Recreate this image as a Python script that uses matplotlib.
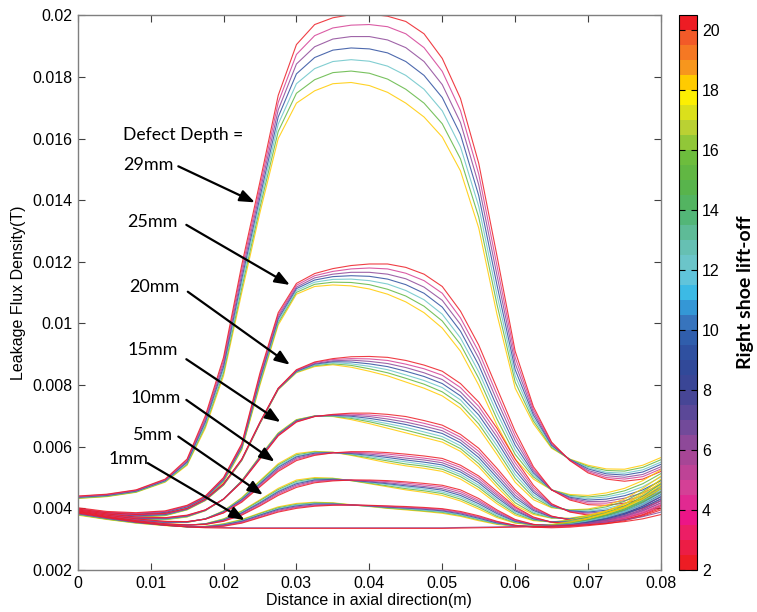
import numpy as np
import matplotlib
matplotlib.use("Agg")
import matplotlib.pyplot as plt
from matplotlib.colors import LinearSegmentedColormap, ListedColormap, Normalize
from matplotlib.cm import ScalarMappable

# axial positions (m)
x_pos = [0, .004, .008, .012, .015, .0175, .02, .0225, .025, .0275, .03, .0325, .035, .0375,
         .04, .0425, .045, .0475, .05, .0525, .055, .0575, .06, .0625, .065, .0675, .07,
         .0725, .075, .0775, .08]

# right shoe lift-off of each row below
lift_offs = [2, 4.5, 6, 9, 12, 15, 18]

# leakage flux density in mT, one row per lift-off
flux_29mm = [
    [4.40, 4.46, 4.60, 4.95, 5.6, 7.0, 8.9, 11.9, 14.6, 17.4, 19.05, 19.7, 19.92, 20.02, 20.04, 19.97, 19.8, 19.4, 18.6, 17.3, 15.2, 12.2, 9.1, 7.3, 6.15, 5.55, 5.15, 4.95, 4.88, 4.95, 5.2],
    [4.39, 4.45, 4.59, 4.93, 5.57, 6.93, 8.8, 11.75, 14.43, 17.17, 18.73, 19.34, 19.59, 19.68, 19.7, 19.63, 19.4, 18.95, 18.18, 16.91, 14.85, 11.88, 8.9, 7.21, 6.12, 5.56, 5.19, 5.0, 4.95, 5.03, 5.28],
    [4.37, 4.43, 4.57, 4.92, 5.53, 6.87, 8.7, 11.6, 14.27, 16.93, 18.42, 18.98, 19.23, 19.31, 19.31, 19.2, 18.95, 18.5, 17.75, 16.52, 14.5, 11.57, 8.7, 7.12, 6.08, 5.57, 5.23, 5.06, 5.01, 5.1, 5.35],
    [4.36, 4.42, 4.56, 4.9, 5.5, 6.8, 8.6, 11.45, 14.1, 16.7, 18.1, 18.63, 18.87, 18.94, 18.91, 18.78, 18.5, 18.05, 17.33, 16.13, 14.15, 11.25, 8.5, 7.03, 6.05, 5.58, 5.28, 5.12, 5.08, 5.18, 5.43],
    [4.35, 4.41, 4.55, 4.88, 5.47, 6.73, 8.5, 11.3, 13.93, 16.47, 17.78, 18.27, 18.5, 18.56, 18.51, 18.35, 18.05, 17.6, 16.9, 15.73, 13.8, 10.93, 8.3, 6.93, 6.02, 5.58, 5.32, 5.17, 5.14, 5.25, 5.5],
    [4.33, 4.39, 4.53, 4.87, 5.43, 6.67, 8.4, 11.15, 13.77, 16.23, 17.47, 17.91, 18.14, 18.19, 18.12, 17.93, 17.6, 17.15, 16.48, 15.34, 13.45, 10.62, 8.1, 6.84, 5.98, 5.59, 5.36, 5.23, 5.21, 5.33, 5.58],
    [4.32, 4.38, 4.52, 4.85, 5.4, 6.6, 8.3, 11.0, 13.6, 16.0, 17.15, 17.55, 17.78, 17.82, 17.72, 17.5, 17.15, 16.7, 16.05, 14.95, 13.1, 10.3, 7.9, 6.75, 5.95, 5.6, 5.4, 5.28, 5.27, 5.4, 5.65],
]
flux_25mm = [
    [4.02, 3.9, 3.86, 3.92, 4.1, 4.4, 5.0, 6.1, 8.4, 10.35, 11.3, 11.62, 11.78, 11.88, 11.93, 11.93, 11.82, 11.6, 11.2, 10.4, 9.3, 7.9, 6.5, 5.35, 4.6, 4.27, 4.12, 4.1, 4.17, 4.3, 4.55],
    [4.0, 3.88, 3.84, 3.9, 4.08, 4.38, 4.98, 6.07, 8.33, 10.28, 11.24, 11.55, 11.69, 11.77, 11.8, 11.77, 11.63, 11.39, 10.98, 10.18, 9.08, 7.7, 6.35, 5.28, 4.6, 4.3, 4.17, 4.17, 4.25, 4.4, 4.67],
    [3.97, 3.87, 3.83, 3.89, 4.07, 4.37, 4.95, 6.03, 8.27, 10.22, 11.18, 11.48, 11.6, 11.66, 11.66, 11.6, 11.45, 11.18, 10.75, 9.97, 8.87, 7.5, 6.2, 5.22, 4.6, 4.33, 4.22, 4.23, 4.33, 4.5, 4.78],
    [3.95, 3.85, 3.81, 3.87, 4.05, 4.35, 4.93, 6.0, 8.2, 10.15, 11.13, 11.41, 11.52, 11.55, 11.53, 11.44, 11.26, 10.98, 10.53, 9.75, 8.65, 7.3, 6.05, 5.15, 4.6, 4.36, 4.27, 4.3, 4.41, 4.6, 4.9],
    [3.93, 3.83, 3.79, 3.85, 4.03, 4.33, 4.9, 5.97, 8.13, 10.08, 11.07, 11.34, 11.43, 11.44, 11.39, 11.28, 11.07, 10.77, 10.3, 9.53, 8.43, 7.1, 5.9, 5.08, 4.6, 4.39, 4.32, 4.37, 4.49, 4.7, 5.02],
    [3.9, 3.82, 3.78, 3.84, 4.02, 4.32, 4.88, 5.93, 8.07, 10.02, 11.01, 11.27, 11.34, 11.33, 11.26, 11.11, 10.89, 10.56, 10.08, 9.32, 8.22, 6.9, 5.75, 5.02, 4.6, 4.42, 4.37, 4.43, 4.57, 4.8, 5.13],
    [3.88, 3.8, 3.76, 3.82, 4.0, 4.3, 4.85, 5.9, 8.0, 9.95, 10.95, 11.2, 11.25, 11.22, 11.12, 10.95, 10.7, 10.35, 9.85, 9.1, 8.0, 6.7, 5.6, 4.95, 4.6, 4.45, 4.42, 4.5, 4.65, 4.9, 5.25],
]
flux_20mm = [
    [3.98, 3.86, 3.8, 3.84, 4.0, 4.3, 4.8, 5.6, 6.8, 7.9, 8.5, 8.75, 8.86, 8.92, 8.93, 8.9, 8.8, 8.65, 8.45, 8.05, 7.45, 6.6, 5.6, 4.75, 4.15, 3.88, 3.78, 3.78, 3.85, 4.0, 4.25],
    [3.96, 3.84, 3.79, 3.83, 3.99, 4.29, 4.79, 5.59, 6.79, 7.89, 8.48, 8.73, 8.83, 8.86, 8.85, 8.8, 8.68, 8.53, 8.32, 7.92, 7.31, 6.46, 5.48, 4.67, 4.13, 3.89, 3.81, 3.83, 3.93, 4.11, 4.38],
    [3.94, 3.83, 3.77, 3.81, 3.98, 4.28, 4.78, 5.58, 6.78, 7.88, 8.47, 8.7, 8.79, 8.81, 8.77, 8.7, 8.57, 8.4, 8.18, 7.78, 7.17, 6.32, 5.35, 4.59, 4.11, 3.9, 3.85, 3.89, 4.0, 4.22, 4.52],
    [3.92, 3.81, 3.76, 3.8, 3.98, 4.28, 4.78, 5.58, 6.78, 7.88, 8.45, 8.68, 8.76, 8.75, 8.69, 8.6, 8.45, 8.28, 8.05, 7.65, 7.03, 6.18, 5.23, 4.52, 4.09, 3.92, 3.88, 3.94, 4.08, 4.33, 4.65],
    [3.9, 3.79, 3.74, 3.79, 3.97, 4.27, 4.77, 5.57, 6.77, 7.87, 8.43, 8.65, 8.73, 8.69, 8.61, 8.5, 8.33, 8.15, 7.92, 7.52, 6.88, 6.03, 5.1, 4.44, 4.06, 3.93, 3.91, 3.99, 4.15, 4.43, 4.78],
    [3.88, 3.78, 3.73, 3.77, 3.96, 4.26, 4.76, 5.56, 6.76, 7.86, 8.42, 8.63, 8.69, 8.64, 8.53, 8.4, 8.22, 8.03, 7.78, 7.38, 6.74, 5.89, 4.98, 4.36, 4.04, 3.94, 3.95, 4.05, 4.23, 4.54, 4.92],
    [3.86, 3.76, 3.71, 3.76, 3.95, 4.25, 4.75, 5.55, 6.75, 7.85, 8.4, 8.6, 8.66, 8.58, 8.45, 8.3, 8.1, 7.9, 7.65, 7.25, 6.6, 5.75, 4.85, 4.28, 4.02, 3.95, 3.98, 4.1, 4.3, 4.65, 5.05],
]
flux_15mm = [
    [3.95, 3.82, 3.72, 3.7, 3.78, 3.95, 4.3, 4.85, 5.6, 6.35, 6.8, 6.98, 7.05, 7.09, 7.09, 7.05, 6.98, 6.85, 6.7, 6.4, 5.95, 5.3, 4.6, 4.05, 3.75, 3.62, 3.58, 3.6, 3.68, 3.85, 4.1],
    [3.93, 3.8, 3.71, 3.69, 3.77, 3.95, 4.3, 4.86, 5.62, 6.37, 6.81, 6.98, 7.04, 7.06, 7.03, 6.98, 6.89, 6.76, 6.61, 6.31, 5.85, 5.2, 4.52, 4.01, 3.74, 3.63, 3.61, 3.65, 3.76, 3.96, 4.24],
    [3.91, 3.79, 3.69, 3.68, 3.76, 3.94, 4.3, 4.87, 5.63, 6.38, 6.83, 6.99, 7.03, 7.02, 6.98, 6.9, 6.8, 6.67, 6.52, 6.22, 5.75, 5.1, 4.43, 3.97, 3.73, 3.64, 3.65, 3.71, 3.84, 4.07, 4.38],
    [3.9, 3.77, 3.68, 3.67, 3.75, 3.94, 4.3, 4.88, 5.65, 6.4, 6.84, 6.99, 7.02, 6.99, 6.92, 6.83, 6.72, 6.58, 6.43, 6.13, 5.65, 5.0, 4.35, 3.93, 3.72, 3.65, 3.68, 3.76, 3.92, 4.18, 4.53],
    [3.88, 3.75, 3.67, 3.65, 3.74, 3.93, 4.3, 4.88, 5.67, 6.42, 6.85, 6.99, 7.0, 6.95, 6.86, 6.75, 6.63, 6.48, 6.33, 6.03, 5.55, 4.9, 4.27, 3.88, 3.7, 3.66, 3.71, 3.81, 3.99, 4.28, 4.67],
    [3.86, 3.74, 3.65, 3.64, 3.73, 3.93, 4.3, 4.89, 5.68, 6.43, 6.87, 7.0, 6.99, 6.92, 6.81, 6.68, 6.54, 6.39, 6.24, 5.94, 5.45, 4.8, 4.18, 3.84, 3.69, 3.67, 3.75, 3.87, 4.07, 4.39, 4.81],
    [3.84, 3.72, 3.64, 3.63, 3.72, 3.92, 4.3, 4.9, 5.7, 6.45, 6.88, 7.0, 6.98, 6.88, 6.75, 6.6, 6.45, 6.3, 6.15, 5.85, 5.35, 4.7, 4.1, 3.8, 3.68, 3.68, 3.78, 3.92, 4.15, 4.5, 4.95],
]
flux_10mm = [
    [3.92, 3.78, 3.66, 3.58, 3.57, 3.65, 3.85, 4.2, 4.7, 5.2, 5.55, 5.72, 5.8, 5.84, 5.84, 5.81, 5.76, 5.7, 5.62, 5.4, 5.05, 4.55, 4.05, 3.72, 3.55, 3.5, 3.52, 3.56, 3.64, 3.8, 4.05],
    [3.9, 3.76, 3.65, 3.57, 3.57, 3.65, 3.86, 4.23, 4.73, 5.24, 5.59, 5.74, 5.8, 5.82, 5.8, 5.76, 5.7, 5.63, 5.55, 5.33, 4.98, 4.48, 4.01, 3.7, 3.55, 3.52, 3.56, 3.62, 3.72, 3.91, 4.18],
    [3.89, 3.75, 3.63, 3.56, 3.56, 3.65, 3.87, 4.25, 4.77, 5.28, 5.63, 5.76, 5.81, 5.8, 5.76, 5.7, 5.63, 5.57, 5.48, 5.25, 4.9, 4.42, 3.96, 3.68, 3.55, 3.54, 3.6, 3.67, 3.8, 4.02, 4.32],
    [3.87, 3.73, 3.62, 3.55, 3.56, 3.66, 3.89, 4.28, 4.8, 5.33, 5.67, 5.79, 5.81, 5.78, 5.72, 5.65, 5.57, 5.5, 5.41, 5.18, 4.83, 4.35, 3.92, 3.66, 3.56, 3.56, 3.64, 3.73, 3.88, 4.13, 4.45],
    [3.85, 3.71, 3.6, 3.54, 3.55, 3.66, 3.9, 4.3, 4.83, 5.37, 5.7, 5.81, 5.81, 5.76, 5.68, 5.59, 5.51, 5.43, 5.34, 5.1, 4.75, 4.28, 3.87, 3.64, 3.56, 3.58, 3.67, 3.79, 3.96, 4.23, 4.58],
    [3.84, 3.7, 3.59, 3.53, 3.55, 3.66, 3.91, 4.33, 4.87, 5.41, 5.74, 5.83, 5.82, 5.74, 5.64, 5.54, 5.44, 5.37, 5.27, 5.03, 4.68, 4.22, 3.83, 3.62, 3.56, 3.6, 3.71, 3.84, 4.04, 4.34, 4.72],
    [3.82, 3.68, 3.57, 3.52, 3.54, 3.66, 3.92, 4.35, 4.9, 5.45, 5.78, 5.85, 5.82, 5.72, 5.6, 5.48, 5.38, 5.3, 5.2, 4.95, 4.6, 4.15, 3.78, 3.6, 3.56, 3.62, 3.75, 3.9, 4.12, 4.45, 4.85],
]
flux_5mm = [
    [3.9, 3.74, 3.6, 3.5, 3.46, 3.48, 3.58, 3.78, 4.08, 4.42, 4.68, 4.83, 4.89, 4.92, 4.92, 4.9, 4.86, 4.81, 4.75, 4.6, 4.32, 3.95, 3.64, 3.48, 3.42, 3.42, 3.47, 3.53, 3.63, 3.78, 4.0],
    [3.88, 3.73, 3.59, 3.49, 3.46, 3.48, 3.59, 3.8, 4.11, 4.46, 4.72, 4.86, 4.91, 4.92, 4.9, 4.87, 4.82, 4.76, 4.7, 4.54, 4.26, 3.91, 3.62, 3.48, 3.43, 3.44, 3.51, 3.58, 3.7, 3.88, 4.13],
    [3.87, 3.71, 3.58, 3.49, 3.46, 3.49, 3.61, 3.83, 4.15, 4.5, 4.76, 4.89, 4.92, 4.91, 4.88, 4.83, 4.77, 4.71, 4.64, 4.48, 4.21, 3.87, 3.6, 3.47, 3.44, 3.47, 3.54, 3.63, 3.77, 3.97, 4.25],
    [3.85, 3.7, 3.57, 3.48, 3.46, 3.49, 3.62, 3.85, 4.18, 4.54, 4.8, 4.92, 4.94, 4.91, 4.86, 4.8, 4.73, 4.67, 4.59, 4.42, 4.15, 3.83, 3.58, 3.47, 3.45, 3.49, 3.58, 3.69, 3.84, 4.07, 4.38],
    [3.83, 3.69, 3.56, 3.47, 3.45, 3.49, 3.63, 3.87, 4.21, 4.57, 4.84, 4.94, 4.95, 4.91, 4.84, 4.77, 4.69, 4.62, 4.53, 4.36, 4.09, 3.78, 3.56, 3.47, 3.46, 3.51, 3.61, 3.74, 3.91, 4.16, 4.5],
    [3.82, 3.67, 3.55, 3.47, 3.45, 3.5, 3.65, 3.9, 4.25, 4.61, 4.88, 4.97, 4.97, 4.9, 4.82, 4.73, 4.64, 4.57, 4.48, 4.3, 4.04, 3.74, 3.54, 3.46, 3.47, 3.54, 3.65, 3.79, 3.98, 4.26, 4.63],
    [3.8, 3.66, 3.54, 3.46, 3.45, 3.5, 3.66, 3.92, 4.28, 4.65, 4.92, 5.0, 4.98, 4.9, 4.8, 4.7, 4.6, 4.52, 4.42, 4.24, 3.98, 3.7, 3.52, 3.46, 3.48, 3.56, 3.68, 3.84, 4.05, 4.35, 4.75],
]
flux_1mm = [
    [3.88, 3.72, 3.58, 3.47, 3.41, 3.39, 3.42, 3.52, 3.7, 3.88, 4.0, 4.07, 4.1, 4.11, 4.1, 4.08, 4.06, 4.03, 3.99, 3.9, 3.76, 3.58, 3.45, 3.39, 3.37, 3.39, 3.44, 3.5, 3.6, 3.75, 3.95],
    [3.86, 3.71, 3.57, 3.47, 3.41, 3.39, 3.43, 3.54, 3.72, 3.91, 4.03, 4.09, 4.11, 4.11, 4.09, 4.07, 4.04, 4.01, 3.97, 3.87, 3.73, 3.56, 3.45, 3.4, 3.39, 3.42, 3.48, 3.55, 3.67, 3.84, 4.07],
    [3.85, 3.69, 3.56, 3.46, 3.41, 3.4, 3.45, 3.56, 3.75, 3.94, 4.05, 4.11, 4.13, 4.11, 4.09, 4.05, 4.02, 3.99, 3.94, 3.85, 3.71, 3.55, 3.44, 3.4, 3.4, 3.44, 3.51, 3.61, 3.74, 3.93, 4.18],
    [3.83, 3.68, 3.55, 3.46, 3.4, 3.4, 3.46, 3.58, 3.78, 3.97, 4.08, 4.14, 4.14, 4.11, 4.08, 4.04, 4.01, 3.97, 3.92, 3.82, 3.68, 3.53, 3.44, 3.41, 3.42, 3.47, 3.55, 3.66, 3.81, 4.03, 4.3],
    [3.81, 3.67, 3.54, 3.45, 3.4, 3.41, 3.47, 3.6, 3.8, 3.99, 4.11, 4.16, 4.15, 4.11, 4.07, 4.03, 3.99, 3.94, 3.89, 3.79, 3.65, 3.51, 3.43, 3.41, 3.43, 3.49, 3.59, 3.71, 3.88, 4.12, 4.42],
    [3.8, 3.65, 3.53, 3.45, 3.4, 3.41, 3.49, 3.62, 3.83, 4.02, 4.13, 4.18, 4.17, 4.11, 4.07, 4.01, 3.97, 3.92, 3.87, 3.77, 3.63, 3.5, 3.43, 3.42, 3.45, 3.52, 3.62, 3.77, 3.95, 4.21, 4.53],
    [3.78, 3.64, 3.52, 3.44, 3.4, 3.42, 3.5, 3.64, 3.85, 4.05, 4.16, 4.2, 4.18, 4.12, 4.06, 4.0, 3.95, 3.9, 3.84, 3.74, 3.6, 3.48, 3.42, 3.42, 3.46, 3.54, 3.66, 3.82, 4.02, 4.3, 4.65],
]
# flat traces with no defect response
intact_lift_offs = [2, 6]
flux_intact = [
    [3.85, 3.7, 3.56, 3.45, 3.4, 3.37, 3.36, 3.35, 3.35, 3.35, 3.35, 3.35, 3.35, 3.35, 3.35, 3.35, 3.35, 3.35, 3.35, 3.36, 3.37, 3.38, 3.39, 3.4, 3.42, 3.44, 3.47, 3.51, 3.57, 3.66, 3.8],
    [3.83, 3.68, 3.55, 3.45, 3.41, 3.39, 3.38, 3.37, 3.37, 3.37, 3.37, 3.37, 3.37, 3.37, 3.37, 3.37, 3.37, 3.37, 3.37, 3.38, 3.39, 3.4, 3.41, 3.42, 3.44, 3.47, 3.51, 3.56, 3.63, 3.73, 3.88],
]

depth_labels = ["29mm", "25mm", "20mm", "15mm", "10mm", "5mm", "1mm"]
groups = [flux_29mm, flux_25mm, flux_20mm, flux_15mm, flux_10mm, flux_5mm, flux_1mm]

# colour scale of the lift-off bar
anchor_vals = [2.0, 3.0, 3.6, 4.5, 5.5, 6.5, 7.5, 8.5, 9.5, 10.5, 11.0, 12.0, 13.0,
               14.0, 15.0, 16.0, 17.0, 18.0, 18.5, 19.0, 20.0, 20.5]
anchor_rgb = [(237, 28, 36), (236, 30, 100), (236, 20, 140), (214, 64, 150),
              (170, 70, 150), (120, 75, 155), (75, 70, 150), (50, 70, 150),
              (45, 85, 165), (60, 130, 200), (40, 180, 235), (110, 200, 215),
              (100, 190, 170), (80, 180, 110), (90, 180, 70), (110, 190, 60),
              (190, 210, 50), (255, 240, 0), (255, 200, 0), (247, 148, 30),
              (242, 90, 40), (237, 28, 36)]
lo, hi = 2.0, 20.5
smooth = LinearSegmentedColormap.from_list(
    "liftoff", [((v - lo) / (hi - lo), tuple(c / 255 for c in rgb))
                for v, rgb in zip(anchor_vals, anchor_rgb)])
cmap = ListedColormap(smooth(np.linspace(0, 1, 37)))
norm = Normalize(lo, hi)

plt.rcParams["font.family"] = ["Liberation Sans", "DejaVu Sans"]

W, H = 757, 612
fig = plt.figure(figsize=(W / 100, H / 100), dpi=100)
ax = fig.add_axes([77.7 / W, 1 - 570 / H, (661 - 77.7) / W, (570 - 15.3) / H])

x = np.array(x_pos)
traces = [(lift_offs, g) for g in groups] + [(intact_lift_offs, flux_intact)]
for lifts, grp in traces:
    # highest lift-off first so the low lift-off traces sit on top
    for lo_val, row in sorted(zip(lifts, grp), key=lambda t: -t[0]):
        ax.plot(x, np.array(row) * 1e-3, color=cmap(norm(lo_val)), lw=0.8, alpha=0.85)

ax.set_xlim(0, 0.08)
ax.set_ylim(0.002, 0.02)
ax.set_xticks(np.arange(0, 0.0801, 0.01))
ax.set_yticks(np.arange(0.002, 0.02001, 0.002))
ax.set_xticklabels(["0", "0.01", "0.02", "0.03", "0.04", "0.05", "0.06", "0.07", "0.08"])
ax.set_yticklabels(["0.002", "0.004", "0.006", "0.008", "0.01", "0.012", "0.014",
                    "0.016", "0.018", "0.02"])
ax.tick_params(direction="in", length=5, width=0.8, labelsize=11.5, top=True, right=True,
               color="#404040", pad=4)
for s in ax.spines.values():
    s.set_color("#7f7f7f")
    s.set_linewidth(1.0)
ax.set_xlabel("Distance in axial direction(m)", fontsize=11.5, labelpad=2)
ax.set_ylabel("Leakage Flux Density(T)", fontsize=11.5, labelpad=4)

# depth annotations
ann_font = dict(family=["Lato", "DejaVu Sans"], fontsize=13, va="center", ha="left")
ax.text(0.0062, 0.01612, "Defect Depth =", fontsize=12.6,
        **{k: v for k, v in ann_font.items() if k != "fontsize"})
text_pos = [(0.0062, 0.01515), (0.0068, 0.01328), (0.0070, 0.01117), (0.0069, 0.00914),
            (0.0073, 0.00758), (0.0076, 0.00638), (0.0042, 0.00560)]
arrow_from = [(0.0138, 0.01510), (0.0149, 0.01320), (0.0151, 0.01103), (0.0149, 0.00884),
              (0.0149, 0.00752), (0.0138, 0.00633), (0.0096, 0.00547)]
arrow_to = [(0.0243, 0.01393), (0.0291, 0.01125), (0.0291, 0.00866), (0.0278, 0.00680),
            (0.0270, 0.00552), (0.0254, 0.00444), (0.0229, 0.00362)]
for lab, tp, a0, a1 in zip(depth_labels, text_pos, arrow_from, arrow_to):
    ax.text(tp[0], tp[1], lab, **ann_font)
    ax.annotate("", xy=a1, xytext=a0,
                arrowprops=dict(arrowstyle="-|>,head_length=0.9,head_width=0.35",
                                color="black", lw=1.6, shrinkA=0, shrinkB=0))

# lift-off colour bar
cax = fig.add_axes([679 / W, 1 - 570 / H, 18 / W, (570 - 15.3) / H])
cb = fig.colorbar(ScalarMappable(norm=norm, cmap=cmap), cax=cax, ticks=np.arange(2, 21, 2))
cb.ax.tick_params(direction="in", length=4, width=0.8, labelsize=11.5, left=True, right=True)
cb.outline.set_linewidth(0.8)
fig.text(745 / W, 1 - 292 / H, "Right shoe lift-off", rotation=90, ha="center", va="center",
         fontsize=14, fontweight="bold", family=["Lato", "DejaVu Sans"])

fig.savefig("out.png", dpi=100)
